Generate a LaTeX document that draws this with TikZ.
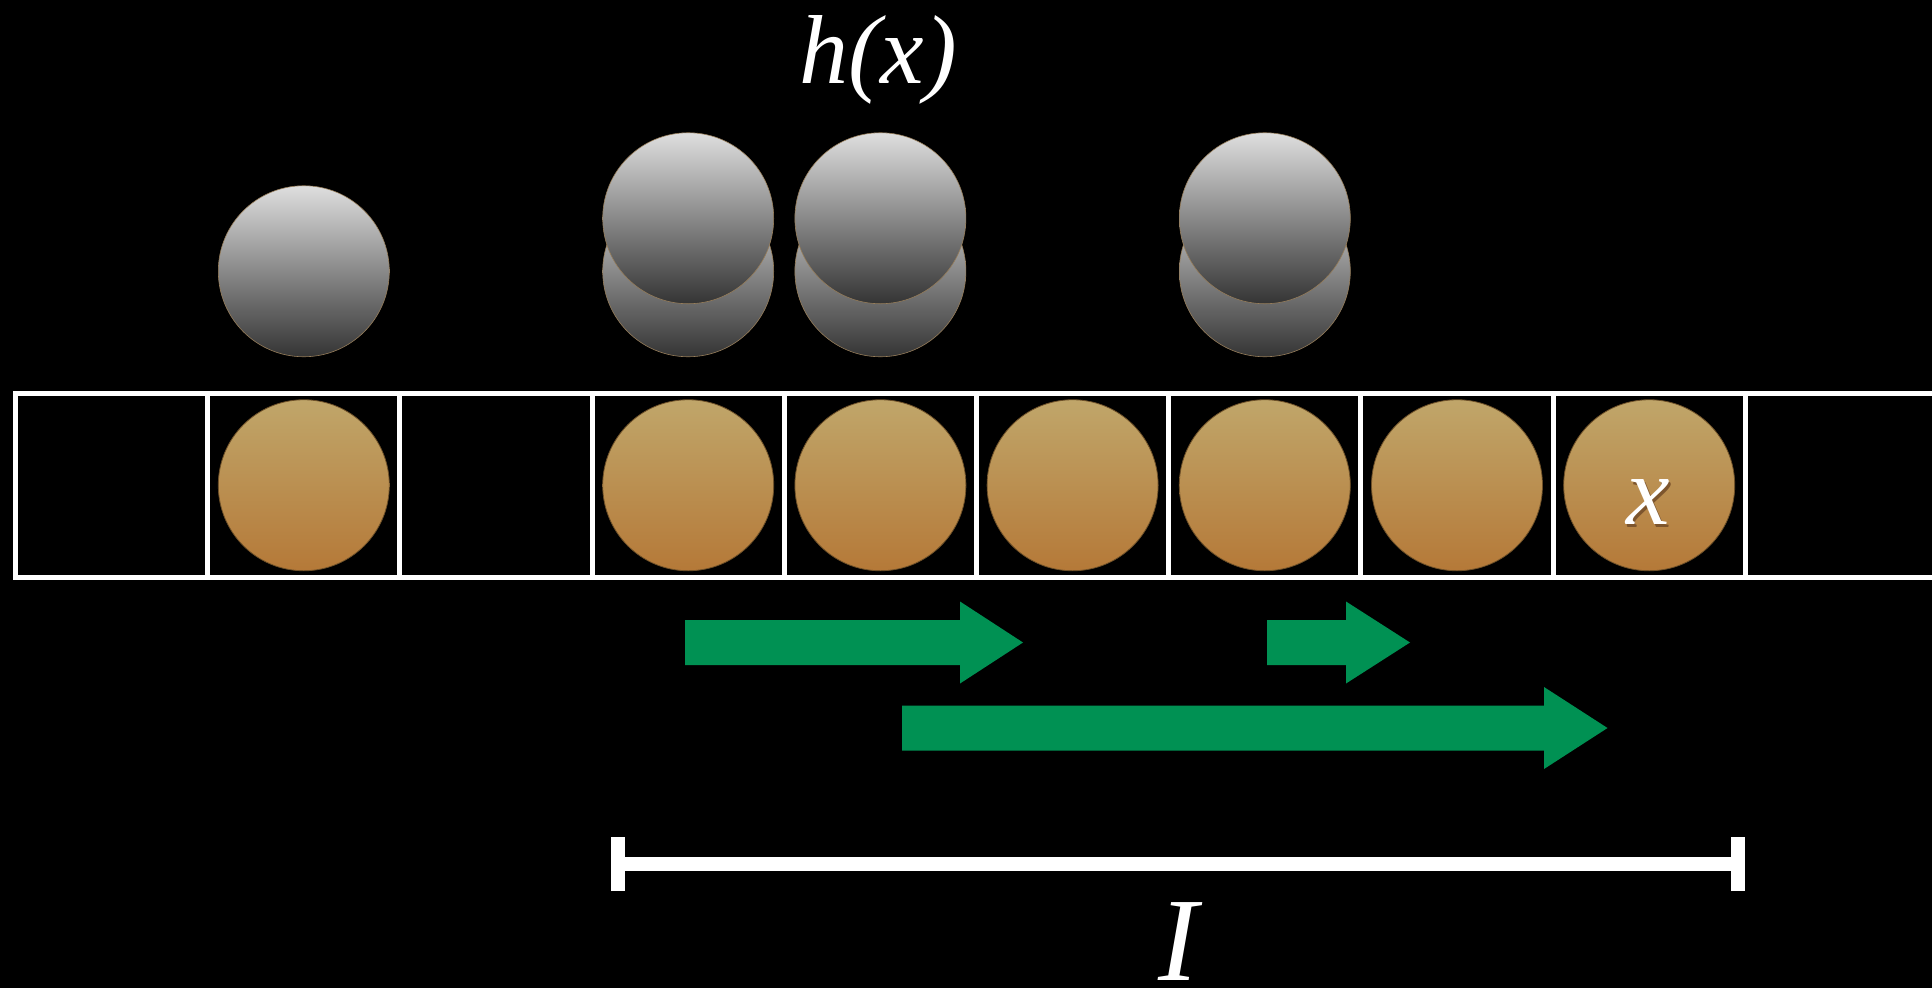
\documentclass[tikz,border=0pt]{standalone}
\usepackage{fontspec}
\setmainfont{Liberation Serif}
\definecolor{ballTop}{RGB}{192,166,106}
\definecolor{ballBot}{RGB}{181,121,56}
\definecolor{ballEdge}{RGB}{110,80,40}
\definecolor{greyTop}{RGB}{222,222,222}
\definecolor{greyBot}{RGB}{52,52,52}
\definecolor{greyEdge}{RGB}{150,125,90}
\definecolor{arrowGreen}{RGB}{0,145,83}
\definecolor{textShade}{RGB}{125,85,45}
\begin{document}
\begin{tikzpicture}[x=1pt,y=-1pt,
  cellbox/.style={draw=white, line width=5pt, minimum width=192.2pt,
    minimum height=183.5pt, inner sep=0pt, outer sep=0pt},
  ball/.style={circle, minimum size=171pt, inner sep=0pt, outer sep=0pt},
  orangeball/.style={ball, top color=ballTop, bottom color=ballBot,
    draw=ballEdge, line width=0.8pt},
  greyball/.style={ball, top color=greyTop, bottom color=greyBot,
    draw=greyEdge, line width=0.6pt},
  blockarrow/.style={fill=arrowGreen},
  textlabel/.style={text=white, inner sep=0pt, anchor=base},
  barline/.style={draw=white, line width=14pt}
]
\useasboundingbox (0,0) rectangle (1932,988);
\clip (0,0) rectangle (1932,988);
\fill[black] (0,0) rectangle (1932,988);

% array cells
\foreach \i in {0,...,9}
  \node[cellbox] (c\i) at ({15.5+192.2*(\i+0.5)},485.25) {};

% occupied cells
\foreach \i in {1,3,4,5,6,7,8}
  \node[orangeball] (o\i) at (c\i.center) {};

% hashed copies above the array
\path (c1.center) ++(0,-214) node[greyball] (g1) {};
\foreach \i in {3,4,6}{
  \path (c\i.center) ++(0,-214) node[greyball] (g\i) {};
  \path (c\i.center) ++(0,-267) node[greyball] (t\i) {};
}

% label of the query element, with a soft shadow underneath
\node[textlabel, font=\itshape\fontsize{98}{100}\selectfont] (xl) at (1648,524)
  {\rlap{\kern2pt\raisebox{-3.5pt}{\textcolor{textShade}{x}}}x};

% hash label
\node[textlabel, font=\itshape\fontsize{98}{100}\selectfont] (hx) at (878,83) {h(x)};

% probe runs
\fill[blockarrow] (685,620) -- (960,620) -- (960,601.5) -- (1023,642.5)
  -- (960,683.5) -- (960,665) -- (685,665) -- cycle;
\fill[blockarrow] (1267,620) -- (1346,620) -- (1346,601.5) -- (1410,642.5)
  -- (1346,683.5) -- (1346,665) -- (1267,665) -- cycle;
\fill[blockarrow] (902,705.5) -- (1544,705.5) -- (1544,687) -- (1607.5,728)
  -- (1544,769) -- (1544,750.5) -- (902,750.5) -- cycle;

% interval bar
\coordinate (barL) at (618,864);
\coordinate (barR) at (1738,864);
\draw[barline] (barL) -- (barR);
\draw[barline] ([yshift=-27pt]barL) -- ([yshift=27pt]barL);
\draw[barline] ([yshift=-27pt]barR) -- ([yshift=27pt]barR);
\node[textlabel, font=\itshape\fontsize{119}{120}\selectfont] (il) at (1178,980) {I};
\end{tikzpicture}
\end{document}
